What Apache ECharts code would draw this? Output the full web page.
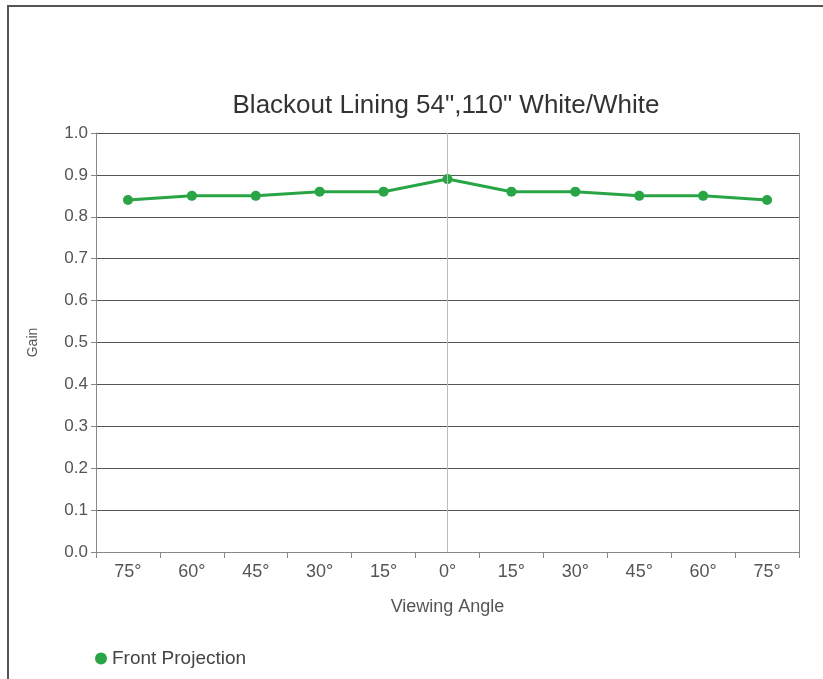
<!DOCTYPE html>
<html><head><meta charset="utf-8">
<script src="https://cdn.jsdelivr.net/npm/echarts@6/dist/echarts.min.js"></script>
<style>html,body{margin:0;padding:0;background:#fff}#c{width:823px;height:679px}</style>
</head><body><div id="c"></div>
<script>
const categories = ['75°','60°','45°','30°','15°','0°','15°','30°','45°','60°','75°'];
const frontProjection = [0.84,0.85,0.85,0.86,0.86,0.89,0.86,0.86,0.85,0.85,0.84];
const yTicks = [0,0.1,0.2,0.3,0.4,0.5,0.6,0.7,0.8,0.9,1.0];
const FONT = '"Liberation Sans", sans-serif';
const chart = echarts.init(document.getElementById('c'), null, {renderer:'canvas'});
chart.setOption({
  backgroundColor:'#fff',
  animation:false,
  graphic:[{type:'polyline',shape:{points:[[8,679],[8,6],[823,6]]},style:{stroke:'#555',lineWidth:2,fill:null}},
    {type:'line',shape:{x1:799.5,y1:133,x2:799.5,y2:552},style:{stroke:'#888',lineWidth:1}},
    {type:'text',x:446,y:106,style:{text:'Blackout Lining 54",110" White/White',font:'normal 26px "Liberation Sans", sans-serif',
      fill:'#333',textAlign:'center',textVerticalAlign:'middle'}}],
  grid:{left:96,right:24,top:133,bottom:127},
  legend:{left:90,top:644,itemWidth:12,itemHeight:12,itemGap:8,icon:'circle',
    textStyle:{fontFamily:FONT,fontSize:19,color:'#444'},data:['Front Projection']},
  xAxis:{type:'category',data:categories,boundaryGap:true,
    name:'Viewing Angle',nameLocation:'middle',nameGap:46,
    nameTextStyle:{fontFamily:FONT,fontSize:18,color:'#555'},
    axisLine:{lineStyle:{color:'#888',width:1}},
    axisTick:{show:true,inside:false,length:6,lineStyle:{color:'#888'}},
    axisLabel:{fontFamily:FONT,fontSize:18,color:'#555',margin:11},
    splitLine:{show:false}},
  yAxis:{type:'value',min:0,max:1,interval:0.1,
    name:'Gain',nameLocation:'middle',nameGap:56,
    nameTextStyle:{fontFamily:FONT,fontSize:14,color:'#555'},
    axisLine:{show:true,lineStyle:{color:'#888'}},
    axisTick:{show:true,length:5,lineStyle:{color:'#888'}},
    axisLabel:{fontFamily:FONT,fontSize:17,color:'#555',margin:8,formatter:v=>v.toFixed(1)},
    splitLine:{lineStyle:{color:'#555',width:1}}},
  series:[{name:'Front Projection',type:'line',data:frontProjection,
    symbol:'circle',symbolSize:10,
    lineStyle:{color:'#29a546',width:3},
    itemStyle:{color:'#29a546'},
    markLine:{silent:true,symbol:'none',label:{show:false},
      lineStyle:{color:'#bbb',type:'solid',width:1},
      data:[{xAxis:'0°'}]}}]
});
</script></body></html>
